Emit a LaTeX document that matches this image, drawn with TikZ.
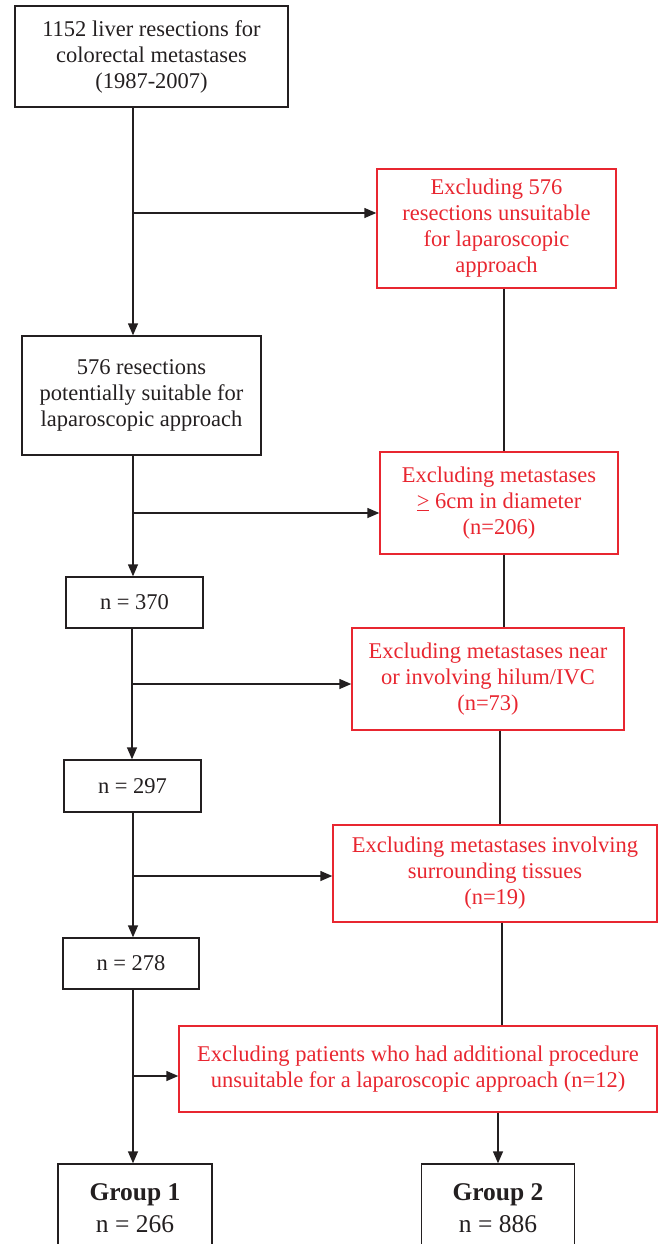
\documentclass[tikz,border=0pt]{standalone}
\usepackage{fontspec}
\setmainfont{Liberation Serif}
\usetikzlibrary{arrows.meta}
\definecolor{boxred}{RGB}{232,38,48}
\definecolor{ink}{RGB}{35,31,32}
\begin{document}
\begin{tikzpicture}[x=1pt,y=-1pt,
  box/.style={draw=ink, line width=1.4pt, align=center, inner sep=0pt, font=\fontsize{22.5}{26}\selectfont, text=ink},
  rbox/.style={box, draw=boxred, text=boxred},
  gbox/.style={box, font=\fontsize{25.5}{32}\selectfont},
  conn/.style={draw=ink, line width=1.4pt},
  arr/.style={conn, -{Triangle[length=12pt,width=10pt]}}]
\clip (0,0) rectangle (663,1244);
% left column
\node[box, minimum width=273pt, minimum height=101pt] (b1) at (151.5,56.5) {1152 liver resections for\\colorectal metastases\\(1987-2007)};
\node[box, minimum width=239pt, minimum height=119pt] (b2) at (141.5,395.5) {576 resections\\potentially suitable for\\laparoscopic approach};
\node[box, minimum width=137pt, minimum height=51pt] (n370) at (134.5,602.5) {n = 370};
\node[box, minimum width=137pt, minimum height=52pt] (n297) at (132.5,786) {n = 297};
\node[box, minimum width=136pt, minimum height=51pt] (n278) at (131,963.5) {n = 278};
\node[gbox, minimum width=154pt, minimum height=88pt] (g1) at (135,1208) {\textbf{Group 1}\\n = 266};
% right column
\node[rbox, minimum width=239pt, minimum height=119pt] (r1) at (496.5,228.5) {Excluding 576\\resections unsuitable\\for laparoscopic\\approach};
\node[rbox, minimum width=238pt, minimum height=102pt] (r2) at (499,503) {Excluding metastases\\\underline{>} 6cm in diameter\\(n=206)};
\node[rbox, minimum width=272pt, minimum height=102pt] (r3) at (488,679) {Excluding metastases near\\or involving hilum/IVC\\(n=73)};
\node[rbox, minimum width=324pt, minimum height=97pt] (r4) at (495,873.5) {Excluding metastases involving\\surrounding tissues\\(n=19)};
\node[rbox, minimum width=478pt, minimum height=86pt] (r5) at (418,1069) {Excluding patients who had additional procedure\\unsuitable for a laparoscopic approach (n=12)};
\node[gbox, minimum width=153pt, minimum height=88pt] (g2) at (498,1208) {\textbf{Group 2}\\n = 886};
% junctions
\coordinate (m1) at (133,213);
\coordinate (m2) at (133,513);
\coordinate (m3) at (132,684);
\coordinate (m4) at (133,876);
\coordinate (m5) at (133,1076);
\coordinate (c1) at (504,0);
\coordinate (c3) at (500,0);
\coordinate (c4) at (502,0);
\coordinate (c5) at (498,0);
% main chain
\draw[arr] (b1.south -| m1) -- (b2.north -| m1);
\draw[arr] (b2.south -| m2) -- (n370.north -| m2);
\draw[arr] (n370.south -| m3) -- (n297.north -| m3);
\draw[arr] (n297.south -| m4) -- (n278.north -| m4);
\draw[arr] (n278.south -| m5) -- (g1.north -| m5);
% branches
\draw[arr] (m1) -- (m1 -| r1.west);
\draw[arr] (m2) -- (m2 -| r2.west);
\draw[arr] (m3) -- (m3 -| r3.west);
\draw[arr] (m4) -- (m4 -| r4.west);
\draw[arr] (m5) -- (m5 -| r5.west);
% right chain
\draw[conn] (r1.south -| c1) -- (r2.north -| c1);
\draw[conn] (r2.south -| c1) -- (r3.north -| c1);
\draw[conn] (r3.south -| c3) -- (r4.north -| c3);
\draw[conn] (r4.south -| c4) -- (r5.north -| c4);
\draw[arr] (r5.south -| c5) -- (g2.north -| c5);
\end{tikzpicture}
\end{document}
